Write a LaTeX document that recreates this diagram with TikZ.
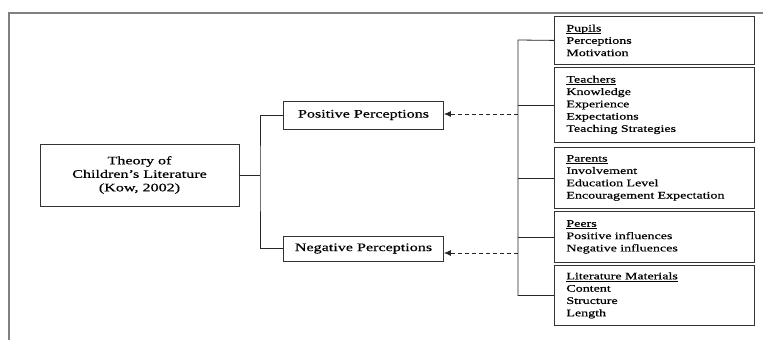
\documentclass[tikz,border=0pt]{standalone}
\usepackage{fontspec}
\setmainfont{Liberation Serif}[FakeStretch=1.4,FakeBold=0.6]
\usetikzlibrary{arrows.meta}
\newcommand{\myul}[1]{\underline{\smash{#1}}\vphantom{#1}}
\begin{document}
\begin{tikzpicture}[x=1pt,y=-1pt,
  mainbox/.style={draw=black!80, line width=0.8pt, inner sep=0pt, align=center,
    font=\fontsize{11.5}{13.5}\selectfont},
  listbox/.style={draw=black!80, line width=0.8pt, anchor=north west, minimum width=200pt,
    text width=176pt, inner xsep=12pt, inner ysep=0pt, align=left,
    font=\fontsize{10}{12.3}\selectfont},
  link/.style={draw=black!85, line width=0.8pt},
  dashlink/.style={draw=black!85, line width=0.8pt, dash pattern=on 4pt off 3pt,
    -{Latex[length=7pt,width=6pt]}},
  frame/.style={draw=black!50, line width=1.2pt}
]
\useasboundingbox (0,0) rectangle (766,340);
% outer frame
\coordinate (ftl) at (9,13);
\coordinate (ftr) at (763,13);
\coordinate (fbl) at (9,340);
\draw[frame] (ftr) -- (ftl) -- (fbl);

% main nodes
\node[mainbox, minimum width=199pt, minimum height=62pt] (theory) at (139.5,175)
  {Theory of\\Children's Literature\\(Kow, 2002)};
\node[mainbox, minimum width=160pt, minimum height=28pt] (pos) at (363.5,115) {Positive Perceptions};
\node[mainbox, minimum width=160pt, minimum height=25pt] (neg) at (363.5,248.5) {Negative Perceptions};

% right boxes
\node[listbox, minimum height=48pt] (pupils) at (554,16)
  {\myul{Pupils}\\Perceptions\\Motivation};
\node[listbox, minimum height=75pt] (teach) at (554,67)
  {\myul{Teachers}\\Knowledge\\Experience\\Expectations\\Teaching Strategies};
\node[listbox, minimum height=61pt] (parents) at (554,147)
  {\myul{Parents}\\Involvement\\Education Level\\Encouragement Expectation};
\node[listbox, minimum height=51pt] (peers) at (554,211)
  {\myul{Peers}\\Positive influences\\Negative influences};
\node[listbox, minimum height=60pt] (lit) at (554,265)
  {\myul{Literature Materials}\\Content\\Structure\\Length};

% left connectors
\coordinate (jl) at (260,175);
\draw[link] (theory.east) -- (jl);
\draw[link] (pos.west) -| (jl) |- (neg.west);

% right bracket
\coordinate (rt) at (518,40);
\draw[link] (pupils.west) -- (rt) |- (lit.west);
\draw[link] (teach.west) -- (teach.west -| rt);
\draw[link] (parents.west) -- (parents.west -| rt);
\draw[link] (peers.west) -- (peers.west -| rt);

% dashed arrows
\coordinate (ap) at (518,114);
\coordinate (an) at (518,253);
\draw[dashlink] (ap) -- (ap -| pos.east);
\draw[dashlink] (an) -- (an -| neg.east);
\end{tikzpicture}
\end{document}
